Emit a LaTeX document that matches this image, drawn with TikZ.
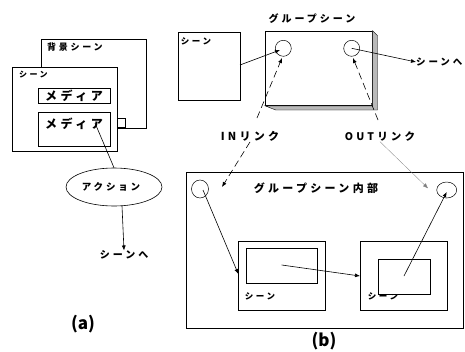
\documentclass[tikz,border=0pt]{standalone}
\usepackage{fontspec}
\newfontfamily\jp[LetterSpace=30]{Noto Sans CJK JP}
\newfontfamily\jpn{Noto Sans CJK JP}
\usetikzlibrary{arrows.meta,shapes.geometric}
\begin{document}
\begin{tikzpicture}[x=1pt,y=-1pt,
  box/.style={draw,line width=0.8pt,fill=white,inner sep=0pt,anchor=north west},
  lbl/.style={inner sep=0pt},
  conn/.style={line width=0.6pt,-{Latex[length=5pt,width=4pt]}},
  dconn/.style={conn,dash pattern=on 7pt off 4pt},
  link/.style={draw,line width=0.5pt,circle,inner sep=0pt}]
\useasboundingbox (0,0) rectangle (465,351);
% ---- (a)
\node[box,minimum width=105pt,minimum height=89pt] (bg) at (40.7,39.3) {};
\node[lbl,anchor=west,font=\jp\bfseries\fontsize{9}{9}\selectfont] (bgt) at (47,47) {背景シーン};
\node[box,minimum width=8.3pt,minimum height=8.4pt] (port) at (116.7,118.3) {};
\node[box,minimum width=105pt,minimum height=84pt] (sa) at (11.7,66.7) {};
\node[lbl,anchor=west,font=\jp\bfseries\fontsize{8}{8}\selectfont] (sat) at (19,75) {シーン};
\node[box,minimum width=72.3pt,minimum height=15pt] (m1) at (37.7,88.3) {};
\node[lbl,font=\jp\bfseries\fontsize{12}{12}\selectfont] (m1t) at (74,96) {メディア};
\node[box,minimum width=72.3pt,minimum height=34.3pt] (m2) at (37.7,111.7) {};
\node[lbl,font=\jp\bfseries\fontsize{12}{12}\selectfont] (m2t) at (74,124) {メディア};
\node[draw,line width=0.6pt,ellipse,minimum width=96pt,minimum height=38pt,inner sep=0pt] (act) at (114,187) {};
\node[lbl,font=\jp\bfseries\fontsize{9.5}{9.5}\selectfont] (actt) at (111,187) {アクション};
\node[lbl,font=\jp\bfseries\fontsize{10}{10}\selectfont] (toa) at (124,255) {シーンへ};
\node[lbl,font=\jpn\bfseries\fontsize{17}{17}\selectfont] (la) at (83,324) {(a)};
\coordinate (m2s) at (95,123);
\draw[line width=0.6pt] (m2s) -- (act.north);
\coordinate (acts) at (122,206);
\draw[conn] (acts) -- (toa.north);
% ---- (b) top
\node[box,minimum width=61.7pt,minimum height=68.3pt] (sb) at (178.3,31.7) {};
\node[lbl,font=\jp\bfseries\fontsize{8.5}{8.5}\selectfont] (sbt) at (196,41.7) {シーン};
\node[box,minimum width=106.7pt,minimum height=74.3pt] (grp) at (265,30.7) {};
\filldraw[fill=gray!55,draw=black,line width=0.4pt] (grp.north east) -- ++(5,5) -- ++(0,74.3) -- ++(-101.7,0) -- (grp.south west) -- (grp.south east) -- cycle;
\node[lbl,font=\jp\bfseries\fontsize{10}{10}\selectfont] (grpt) at (312,18.3) {グループシーン};
\node[link,minimum size=16pt] (cin) at (283.3,48.3) {};
\node[link,minimum size=16pt] (cout) at (351.7,48.3) {};
\node[lbl,font=\jp\bfseries\fontsize{11}{11}\selectfont] (inl) at (250,136.7) {INリンク};
\node[lbl,font=\jp\bfseries\fontsize{10.5}{10.5}\selectfont] (outl) at (380,136.7) {OUTリンク};
\node[lbl,anchor=west,font=\jp\bfseries\fontsize{9.5}{9.5}\selectfont] (tob) at (416,62) {シーンへ};
\coordinate (sbs) at (240,65);
\draw[conn] (sbs) -- (280,50);
\coordinate (ins) at (257,118);
\draw[dconn] (ins) -- (282,58);
\coordinate (outs) at (378,120);
\draw[dconn] (outs) -- (353,58);
\draw[conn] (cout.center) -- (tob.west);
% ---- (b) bottom
\node[box,minimum width=277.3pt,minimum height=156.6pt] (inner) at (186,171.7) {};
\node[lbl,font=\jp\bfseries\fontsize{11}{11}\selectfont] (innert) at (316,188.3) {グループシーン内部};
\node[draw,line width=0.5pt,ellipse,minimum width=17pt,minimum height=18pt,inner sep=0pt] (ein) at (200,189) {};
\node[draw,line width=0.5pt,ellipse,minimum width=20pt,minimum height=16pt,inner sep=0pt] (eout) at (446.7,190) {};
\node[box,minimum width=86.7pt,minimum height=69.3pt] (s1) at (238.3,240.7) {};
\node[box,minimum width=70.7pt,minimum height=34.4pt] (s1in) at (246,248.3) {};
\node[lbl,font=\jp\bfseries\fontsize{8.5}{8.5}\selectfont] (s1t) at (260,296.7) {シーン};
\node[box,minimum width=86.7pt,minimum height=69.3pt] (s2) at (360,240.7) {};
\node[lbl,font=\jp\bfseries\fontsize{8.5}{8.5}\selectfont] (s2t) at (383,296.7) {シーン};
\node[box,minimum width=52.3pt,minimum height=35pt] (s2in) at (377.7,259) {};
\node[lbl,font=\jpn\bfseries\fontsize{17}{17}\selectfont] (lb) at (324,341) {(b)};
\draw[dconn] (inl.south) -- (222,187);
\draw[conn,line width=0.3pt,gray] (outl.south) -- (428,188.3);
\coordinate (eins) at (203,190);
\draw[conn] (eins) -- (238.3,274);
\coordinate (s1s) at (281.7,265);
\draw[conn] (s1s) -- (360,276);
\coordinate (s2s) at (404,276);
\draw[conn] (s2s) -- (446.7,192);
\end{tikzpicture}
\end{document}
